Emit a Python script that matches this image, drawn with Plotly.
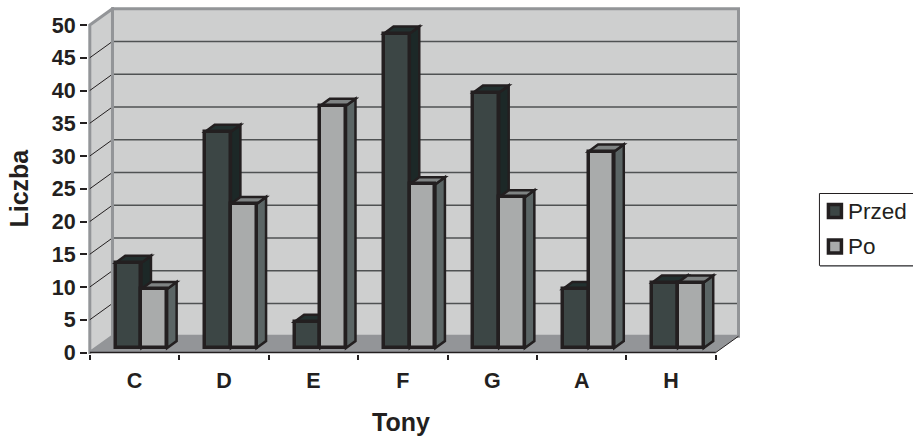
import plotly.graph_objects as go

categories = ["C", "D", "E", "F", "G", "A", "H"]
series_names = ["Przed", "Po"]
przed = [13, 33, 4, 48, 39, 9, 10]
po = [9, 22, 37, 25, 23, 30, 10]
y_ticks = list(range(0, 55, 5))

INK = "#231f20"
WALL = "#cecfcf"
FLOOR = "#939598"
C_DARK, C_DARK_TOP, C_DARK_SIDE = "#3c4645", "#22302f", "#1c2827"
C_LIGHT, C_LIGHT_TOP, C_LIGHT_SIDE = "#a9abab", "#7f8383", "#5b6565"

W, H = 913, 438
L, R, T, B = 87.5, 741.0, 7.0, 354.0
CAT, UNIT = 89.5, 6.55
X0_PX, Y0_PX = 89.3, 352.5
DX, DY = 22.7 / CAT, 16.3 / UNIT          # depth of the floor / wall
BDX, BDY = 9.5 / CAT, 7 / UNIT            # depth of a bar
LIFT = 4.5 / UNIT
OFF1, OFF2, BW = 0.29 + 0.144, 0.29 + 0.431, 0.2875
YMAX = y_ticks[-1]
N = len(categories)


def px(x):
    return (x - L) / (R - L)


def py(y):
    return (B - y) / (B - T)


def poly(points, fill, line=None, width=0.0):
    path = "M " + " L ".join(f"{x},{y}" for x, y in points) + " Z"
    return dict(type="path", xref="x", yref="y", layer="below", path=path,
                fillcolor=fill, line=dict(color=line or fill, width=width))


def seg(x0, y0, x1, y1, color, width):
    return dict(type="line", xref="x", yref="y", layer="below", x0=x0, y0=y0, x1=x1, y1=y1,
                line=dict(color=color, width=width))


def paper_rect(x0, y0, x1, y1, fill, line, width):
    return dict(type="rect", xref="paper", yref="paper", layer="above",
                x0=px(x0), x1=px(x1), y0=py(y0), y1=py(y1),
                fillcolor=fill, line=dict(color=line, width=width))


def label(text, x, y, font, **kw):
    return dict(text=text, xref="paper", yref="paper", x=px(x), y=py(y), showarrow=False,
                yanchor="middle", font=font, **kw)


shapes = []
# walls and floor
shapes.append(poly([(DX, DY), (N + DX, DY), (N + DX, YMAX + DY), (DX, YMAX + DY)], WALL, FLOOR, 3))
shapes.append(poly([(0, 0), (DX, DY), (DX, YMAX + DY), (0, YMAX)], WALL, FLOOR, 3))
shapes.append(poly([(0, 0), (N, 0), (N + DX, DY), (DX, DY)], FLOOR))
# gridlines
for v in y_ticks[1:-1]:
    shapes.append(seg(DX, v + DY, N + DX, v + DY, "#4f5253", 1.5))
    shapes.append(seg(0, v, DX, v + DY, INK, 1))
shapes.append(seg(DX, DY, DX, YMAX + DY, FLOOR, 3))
shapes.append(seg(N + DX, DY, N + DX, YMAX + DY, FLOOR, 3))
shapes.append(seg(0, 0, DX, DY, FLOOR, 1))
shapes.append(seg(N, 0, N + DX, DY, INK, 1))
shapes.append(seg(0, 0, N, 0, INK, 1.5))


def box_faces(center, value, top_c, side_c):
    l, r = center - BW / 2, center + BW / 2
    b, t = LIFT, value + LIFT
    shapes.append(poly([(r, b), (r + BDX, b + BDY), (r + BDX, t + BDY), (r, t)], side_c, INK, 2.5))
    shapes.append(poly([(l, t), (r, t), (r + BDX, t + BDY), (l + BDX, t + BDY)], top_c, INK, 2.5))


for i in range(N):
    box_faces(i + OFF1, przed[i], C_DARK_TOP, C_DARK_SIDE)
for i in range(N):
    box_faces(i + OFF2, po[i], C_LIGHT_TOP, C_LIGHT_SIDE)

# legend box, cut by the right edge as in the reference
shapes.append(paper_rect(819.5, 193.5, 925, 265.5, "white", INK, 1))
shapes.append(dict(type="line", xref="paper", yref="paper", layer="above", x0=px(820), x1=px(925),
                   y0=py(266.3), y1=py(266.3), line=dict(color=FLOOR, width=1.5)))
shapes.append(paper_rect(828.5, 204.5, 841.5, 217.5, C_DARK, INK, 3.5))
shapes.append(paper_rect(828.5, 240, 841.5, 253, C_LIGHT, INK, 3.5))

fig = go.Figure()
fig.add_bar(name=series_names[0], x=[i + OFF1 for i in range(N)], y=przed, base=LIFT, width=BW,
            marker=dict(color=C_DARK, line=dict(color=INK, width=3.5)))
fig.add_bar(name=series_names[1], x=[i + OFF2 for i in range(N)], y=po, base=LIFT, width=BW,
            marker=dict(color=C_LIGHT, line=dict(color=INK, width=3.5)))

tfont = dict(family="Liberation Sans", size=21.5, color=INK, weight="bold")
title_font = dict(family="Liberation Sans", size=25, color=INK)
legend_font = dict(family="Liberation Sans", size=22.5, color=INK)
fig.update_layout(
    width=W, height=H, barmode="overlay", bargap=0, showlegend=False,
    paper_bgcolor="white", plot_bgcolor="white", shapes=shapes,
    margin=dict(l=L, r=W - R, t=T, b=H - B, pad=0, autoexpand=False),
    xaxis=dict(range=[(L - X0_PX) / CAT, (R - X0_PX) / CAT], tickvals=[i + 0.5 for i in range(N)],
               ticktext=categories, ticks="", showgrid=False, zeroline=False, showline=False,
               tickfont=tfont, ticklabelstandoff=11,
               minor=dict(tickvals=list(range(N + 1)), ticks="outside", ticklen=5, tickwidth=1.5,
                          tickcolor=INK, showgrid=False)),
    yaxis=dict(range=[(Y0_PX - B) / UNIT, (Y0_PX - T) / UNIT], tickvals=y_ticks, ticks="outside",
               ticklen=7, tickwidth=1.5, tickcolor=INK, showgrid=False, zeroline=False,
               showline=False, tickfont=tfont),
    annotations=[
        label("<b>Tony</b>", 401, 422, title_font, xanchor="center"),
        label("<b>Liczba</b>", 18, 188, title_font, xanchor="center", textangle=-90),
        label(series_names[0], 846, 211, legend_font, xanchor="left"),
        label(series_names[1], 846, 247, legend_font, xanchor="left"),
    ],
)
fig.write_html("out.html", config={"displayModeBar": False},
               post_script="document.body.style.margin='0';document.body.style.overflow='hidden';")
